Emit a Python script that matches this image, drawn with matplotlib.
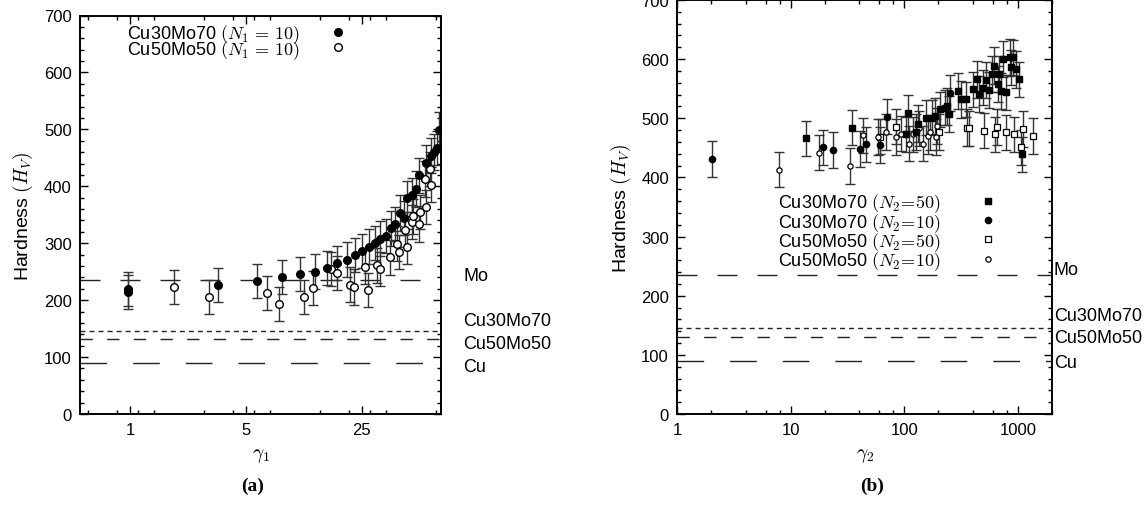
import matplotlib
matplotlib.use('Agg')
import matplotlib.pyplot as plt
from matplotlib.ticker import FixedLocator, FixedFormatter, NullFormatter, MultipleLocator, LogLocator

plt.rcParams['font.family'] = ['Liberation Sans', 'DejaVu Sans']
plt.rcParams['mathtext.fontset'] = 'cm'

# reference hardness levels (dashed lines)
ref_names = ['Mo', 'Cu30Mo70', 'Cu50Mo50', 'Cu']
ref_vals = [235, 145, 131, 90]

# (a) gamma_1, N1 = 10
a_x_3070 = [0.97, 0.98, 3.38, 5.81, 8.24, 10.6, 13.1, 15.4, 17.8, 20.3, 22.6, 25.2, 27.6, 30.1, 32.3,
            34.8, 37.4, 39.6, 42.4, 44.9, 47.0, 49.9, 52.7, 55.4, 61.3, 65.0, 68.0, 70.5, 73.3]
a_y_3070 = [214, 220, 226, 233, 240, 246, 250, 257, 265, 271, 279, 287, 294, 301, 308,
            313, 326, 334, 353, 344, 379, 384, 395, 419, 441, 454, 460, 467, 499]
a_e_3070 = [30, 30, 30, 30, 30, 30, 31, 30, 30, 31, 30, 30, 31, 30, 31,
            30, 31, 30, 31, 30, 31, 30, 31, 30, 31, 30, 31, 30, 31]

a_x_5050 = [1.84, 3.0, 6.7, 7.87, 11.2, 12.7, 16.4, 17.6, 21.2, 22.4, 26.1, 27.3, 30.8, 32.3,
            36.7, 40.6, 41.6, 45.6, 46.7, 49.9, 51.2, 55.4, 55.9, 60.8, 60.0, 64.0, 65.5]
a_y_5050 = [223, 205, 212, 193, 206, 221, 254, 247, 227, 223, 259, 218, 261, 254,
            275, 299, 284, 324, 294, 337, 347, 334, 355, 364, 413, 431, 403]
a_e_5050 = [30, 30, 30, 30, 30, 30, 30, 30, 31, 31, 30, 30, 31, 30,
            30, 31, 30, 30, 31, 30, 30, 31, 30, 30, 31, 30, 30]

# (b) gamma_2
b_x_3070_50 = [13.5, 34.4, 104, 108, 127, 132, 156, 176, 188, 206, 226, 237, 250, 300, 317, 346, 401, 435,
               453, 491, 526, 562, 594, 614, 666, 689, 713, 747, 788, 855, 872, 902, 966, 1019, 1082]
b_y_3070_50 = [466, 484, 473, 509, 477, 491, 501, 501, 504, 515, 518, 520, 507, 546, 532, 532, 549, 566,
               541, 552, 565, 548, 575, 589, 558, 575, 546, 600, 544, 603, 586, 603, 583, 566, 439]
b_e_3070_50 = [30, 30, 30, 30, 30, 31, 30, 30, 31, 30, 30, 31, 30, 30, 31, 30, 30, 31,
               30, 30, 31, 30, 30, 31, 30, 30, 31, 30, 30, 31, 30, 30, 31, 30, 30]

b_x_3070_10 = [2.03, 19.4, 23.6, 41.0, 45.7, 61.6, 70.2, 254]
b_y_3070_10 = [431, 451, 446, 448, 456, 455, 503, 543]
b_e_3070_10 = [30, 30, 30, 30, 30, 30, 30, 30]

b_x_5050_50 = [60.6, 83.8, 204, 355, 374, 501, 631, 652, 788, 934, 1069, 1104, 1372]
b_y_5050_50 = [469, 486, 477, 484, 483, 479, 473, 485, 476, 473, 451, 482, 470]
b_e_5050_50 = [30, 30, 30, 31, 30, 30, 30, 31, 30, 30, 30, 30, 30]

b_x_5050_10 = [7.84, 17.6, 33.3, 43.3, 59.0, 69.5, 83.8, 94.0, 110, 119, 136, 146, 161, 169, 188.5, 196]
b_y_5050_10 = [413, 442, 419, 471, 468, 477, 468, 474, 457, 473, 483, 457, 470, 476, 468, 487]
b_e_5050_10 = [30, 30, 30, 30, 30, 30, 30, 30, 30, 30, 30, 30, 30, 30, 30, 30]

dash_styles = [(0, (14.4, 14.4)), (0, (3.6, 2.9)), (0, (8.9, 10.3)), (0, (19.2, 18.7))]
ebar_kw = dict(fmt='none', ecolor='#333333', elinewidth=1, capsize=3.6, capthick=1, zorder=2)


def style_axes(ax):
    ax.set_ylim(0, 700)
    ax.yaxis.set_major_locator(MultipleLocator(100))
    ax.yaxis.set_minor_locator(MultipleLocator(20))
    ax.tick_params(which='both', direction='in', top=True, right=True, labelsize=12, width=1, pad=6)
    ax.tick_params(which='major', length=6)
    ax.tick_params(which='minor', length=3)
    for s in ax.spines.values():
        s.set_linewidth(1.4)
    ax.set_ylabel(r'Hardness $(H_V)$', fontsize=14, labelpad=6)


def ref_lines(ax, label_x, label_y):
    for val, ls, name, ly in zip(ref_vals, dash_styles, ref_names, label_y):
        ax.axhline(val, color='#222222', lw=1, linestyle=ls, zorder=1)
        ax.text(label_x, ly, name, transform=ax.get_yaxis_transform(), ha='left', va='center',
                fontsize=13, clip_on=False)


fig = plt.figure(figsize=(11.48, 5.06), dpi=100)
ax1 = fig.add_axes([80 / 1148, 91 / 506, 361 / 1148, 398.5 / 506])
ax2 = fig.add_axes([677.3 / 1148, 91 / 506, 374.7 / 1148, 414 / 506])

# ---- panel (a)
style_axes(ax1)
ax1.set_xscale('log', base=5)
ax1.set_xlim(0.5, 75)
ax1.xaxis.set_major_locator(FixedLocator([1, 5, 25]))
ax1.xaxis.set_major_formatter(FixedFormatter(['1', '5', '25']))
ax1.xaxis.set_minor_locator(FixedLocator([0.56, 0.84, 1.12, 1.4, 2.8, 4.2, 5.6, 7, 14, 21, 28, 35, 70]))
ax1.xaxis.set_minor_formatter(NullFormatter())
ref_lines(ax1, 1.061, [243, 164, 124, 84])

ax1.errorbar(a_x_3070, a_y_3070, yerr=a_e_3070, **ebar_kw)
ax1.errorbar(a_x_5050, a_y_5050, yerr=a_e_5050, **ebar_kw)
ax1.plot(a_x_5050, a_y_5050, 'o', ms=5.5, mfc='white', mec='black', mew=1, ls='none', zorder=3,
         label=r'Cu50Mo50 $(N_1\,=\,10)$')
ax1.plot(a_x_3070, a_y_3070, 'o', ms=5.5, mfc='black', mec='black', ls='none', zorder=4,
         label=r'Cu30Mo70 $(N_1\,=\,10)$')
h, l = ax1.get_legend_handles_labels()
ax1.legend(h[::-1], l[::-1], loc='upper left', bbox_to_anchor=(0.131, 0.982), frameon=False,
           markerfirst=False, fontsize=13, handlelength=1.0, handletextpad=1.6,
           labelspacing=-0.42, borderpad=0, borderaxespad=0)
ax1.set_xlabel(r'$\gamma_1$', fontsize=14, labelpad=6)

# ---- panel (b)
style_axes(ax2)
ax2.set_xscale('log')
ax2.set_xlim(1, 2000)
ax2.xaxis.set_major_locator(FixedLocator([1, 10, 100, 1000]))
ax2.xaxis.set_major_formatter(FixedFormatter(['1', '10', '100', '1000']))
ax2.xaxis.set_minor_locator(LogLocator(base=10, subs=(2, 4, 6, 8)))
ax2.xaxis.set_minor_formatter(NullFormatter())
ref_lines(ax2, 1.005, [245, 167, 130, 87])

for xs, ys, es in [(b_x_5050_50, b_y_5050_50, b_e_5050_50), (b_x_5050_10, b_y_5050_10, b_e_5050_10),
                   (b_x_3070_50, b_y_3070_50, b_e_3070_50), (b_x_3070_10, b_y_3070_10, b_e_3070_10)]:
    ax2.errorbar(xs, ys, yerr=es, **ebar_kw)
l1, = ax2.plot(b_x_3070_50, b_y_3070_50, 's', ms=5, mfc='black', mec='black', ls='none', zorder=4,
               label=r'Cu30Mo70 $(N_2\!=\!50)$')
l2, = ax2.plot(b_x_3070_10, b_y_3070_10, 'o', ms=4.5, mfc='black', mec='black', ls='none', zorder=4,
               label=r'Cu30Mo70 $(N_2\!=\!10)$')
l3, = ax2.plot(b_x_5050_50, b_y_5050_50, 's', ms=5, mfc='white', mec='black', mew=0.9, ls='none', zorder=3,
               label=r'Cu50Mo50 $(N_2\!=\!50)$')
l4, = ax2.plot(b_x_5050_10, b_y_5050_10, 'o', ms=3.8, mfc='white', mec='black', mew=0.9, ls='none', zorder=3,
               label=r'Cu50Mo50 $(N_2\!=\!10)$')
ax2.legend([l1, l2, l3, l4], [l1.get_label(), l2.get_label(), l3.get_label(), l4.get_label()],
           loc='upper left', bbox_to_anchor=(0.27, 0.537), frameon=False, markerfirst=False,
           fontsize=13, handlelength=1.0, handletextpad=2.1, labelspacing=-0.2,
           borderpad=0, borderaxespad=0)
ax2.set_xlabel(r'$\gamma_2$', fontsize=14, labelpad=6)

fig.text(253 / 1148, 1 - 486 / 506, '(a)', ha='center', va='center', family='Liberation Serif',
         weight='bold', fontsize=14)
fig.text(872 / 1148, 1 - 486 / 506, '(b)', ha='center', va='center', family='Liberation Serif',
         weight='bold', fontsize=14)

fig.savefig('out.png', dpi=100)
